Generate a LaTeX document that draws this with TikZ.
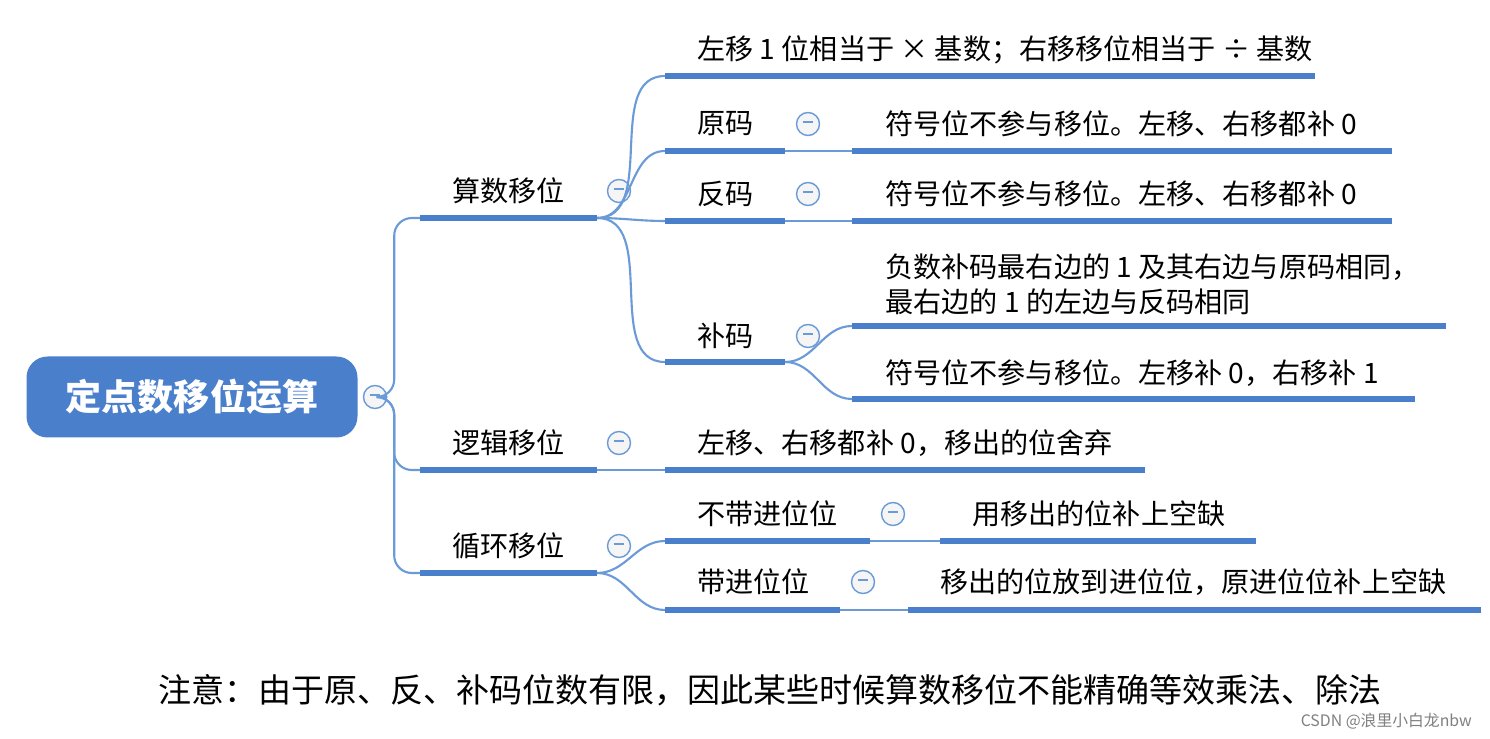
\documentclass[tikz,border=0pt]{standalone}
\usepackage{fontspec}
\setmainfont{Noto Sans CJK SC}
\usetikzlibrary{positioning}
\definecolor{barblue}{HTML}{4A7FCC}
\definecolor{lineblue}{HTML}{6A9AD8}
\tikzset{
	rootnode/.style={rectangle, rounded corners=12pt, fill=barblue, text=white, font=\fontsize{20.5}{24}\selectfont\bfseries, minimum width=331*0.02cm, minimum height=81*0.02cm},
	txt/.style={anchor=west, inner sep=0pt, font=\fontsize{16}{20}\selectfont},
	fold/.style={circle, draw=lineblue, fill=gray!8, thick, minimum size=0.46cm, inner sep=0pt},
	bar/.style={barblue, line width=3.2pt},
	conn/.style={lineblue, line width=1.2pt}
}
\newcommand{\minus}{\textcolor{lineblue}{\rule[2.5pt]{6pt}{0.9pt}}}
\begin{document}
\begin{tikzpicture}[x=0.02cm,y=-0.02cm]
		\useasboundingbox (0,0) rectangle (1490,739);
		\fill[white] (0,0) rectangle (1490,739);
		
		\node[rootnode] at (192,397) (root) {定点数移位运算};
		\node[fold] at (375,397) (f0) {\minus};
		
		% level 1
		\node[txt] at (452,191) (ss) {算数移位};
		\node[txt] at (452,443) (lj) {逻辑移位};
		\node[txt] at (452,546) (xh) {循环移位};
		\node[fold] at (619,191) (f1) {\minus};
		\node[fold] at (619,443) (f2) {\minus};
		\node[fold] at (619,546) (f3) {\minus};
		\coordinate (ssA) at (420,218); \coordinate (ssB) at (597,218);
		\coordinate (ljA) at (420,470); \coordinate (ljB) at (597,470);
		\coordinate (xhA) at (420,573); \coordinate (xhB) at (597,573);
		
		% level 2 under 算数移位
		\node[txt] at (697,50) (bs) {左移 1 位相当于 × 基数；右移移位相当于 ÷ 基数};
		\node[txt] at (697,124) (ym) {原码};
		\node[txt] at (697,194) (fm) {反码};
		\node[txt] at (697,336) (bm) {补码};
		\node[fold] at (808,124) (f4) {\minus};
		\node[fold] at (808,194) (f5) {\minus};
		\node[fold] at (808,336) (f6) {\minus};
		\coordinate (bsA) at (665,76);  \coordinate (bsB) at (1315,76);
		\coordinate (ymA) at (665,151); \coordinate (ymB) at (785,151);
		\coordinate (fmA) at (665,221); \coordinate (fmB) at (785,221);
		\coordinate (bmA) at (665,362); \coordinate (bmB) at (785,362);
		
		\node[txt] at (885,124) (ymt) {符号位不参与移位。左移、右移都补 0};
		\node[txt] at (885,194) (fmt) {符号位不参与移位。左移、右移都补 0};
		\node[txt, align=left] at (885,284) (bmt1) {负数补码最右边的 1 及其右边与原码相同，\\最右边的 1 的左边与反码相同};
		\node[txt] at (885,373) (bmt2) {符号位不参与移位。左移补 0，右移补 1};
		\coordinate (ymtA) at (852,151); \coordinate (ymtB) at (1392,151);
		\coordinate (fmtA) at (852,221); \coordinate (fmtB) at (1392,221);
		\coordinate (bt1A) at (852,326); \coordinate (bt1B) at (1446,326);
		\coordinate (bt2A) at (852,399); \coordinate (bt2B) at (1415,399);
		
		% 逻辑移位
		\node[txt] at (697,443) (ljt) {左移、右移都补 0，移出的位舍弃};
		\coordinate (ljtA) at (665,470); \coordinate (ljtB) at (1145,470);
		
		% 循环移位
		\node[txt] at (697,514) (bd) {不带进位位};
		\node[txt] at (697,582) (dj) {带进位位};
		\node[fold] at (893,514) (f7) {\minus};
		\node[fold] at (863,582) (f8) {\minus};
		\coordinate (bdA) at (665,541); \coordinate (bdB) at (870,541);
		\coordinate (djA) at (665,610); \coordinate (djB) at (840,610);
		\node[txt] at (972,514) (bdt) {用移出的位补上空缺};
		\node[txt] at (940,582) (djt) {移出的位放到进位位，原进位位补上空缺};
		\coordinate (bdtA) at (940,541); \coordinate (bdtB) at (1256,541);
		\coordinate (djtA) at (908,610); \coordinate (djtB) at (1481,610);
		
		%Lines
		\draw[conn, rounded corners=10pt] (f0.east) -- ++(7,0) |- (ssA);
		\draw[conn, rounded corners=10pt] (f0.east) -- ++(7,0) |- (ljA);
		\draw[conn, rounded corners=10pt] (f0.east) -- ++(7,0) |- (xhA);
		
		\foreach \a in {bsA,ymA,fmA,bmA}
			\draw[conn] (ssB) to[out=0,in=180] (\a);
		\draw[conn] (ljB) -- (ljtA);
		\foreach \a in {bdA,djA}
			\draw[conn] (xhB) to[out=0,in=180] (\a);
		\draw[conn] (ymB) -- (ymtA);
		\draw[conn] (fmB) -- (fmtA);
		\draw[conn] (bmB) to[out=0,in=180] (bt1A);
		\draw[conn] (bmB) to[out=0,in=180] (bt2A);
		\draw[conn] (bdB) -- (bdtA);
		\draw[conn] (djB) -- (djtA);
		
		\foreach \p in {ss,lj,xh,bs,ym,fm,bm,ymt,fmt,bt1,bt2,ljt,bd,dj,bdt,djt}
			\draw[bar] (\p A) -- (\p B);
		
		\node[font=\fontsize{18.8}{22}\selectfont] at (770,690) (note) {注意：由于原、反、补码位数有限，因此某些时候算数移位不能精确等效乘法、除法};
		\node[anchor=east, text=gray, font=\fontsize{9}{11}\selectfont] at (1478,721) (wm) {CSDN @浪里小白龙nbw};
	\end{tikzpicture}
\end{document}
